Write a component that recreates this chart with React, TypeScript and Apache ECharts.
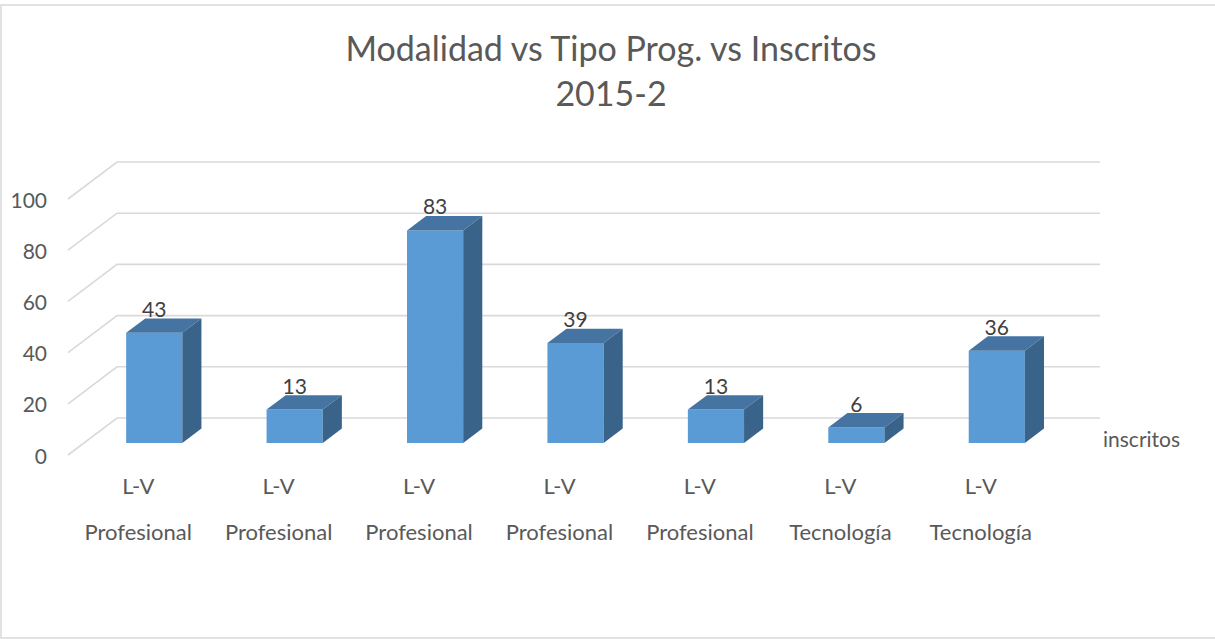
import React, { useEffect, useRef } from "react";
import * as echarts from "echarts";

const modalidad = ["L-V", "L-V", "L-V", "L-V", "L-V", "L-V", "L-V"];
const tipoProg = ["Profesional", "Profesional", "Profesional", "Profesional", "Profesional", "Tecnología", "Tecnología"];
const inscritos = [43, 13, 83, 39, 13, 6, 36];
const yTicks = [0, 20, 40, 60, 80, 100];
const seriesName = "inscritos";
const titleLines = ["Modalidad vs Tipo Prog. vs Inscritos", "2015-2"];

const FONT = "Lato, 'Open Sans', sans-serif";
const DX = 49;
const DY = -37;
const F_FRONT = 0.327;
const F_DEPTH = 0.39;
const BAR_FRAC = 0.4;

export default function App() {
  const ref = useRef<HTMLDivElement>(null);
  useEffect(() => {
    if (!ref.current) return;
    const chart = echarts.init(ref.current, undefined, { renderer: "svg" });
    const categories = modalidad.map((m, i) => `${m}\n${tipoProg[i]}`);
    chart.setOption({
      animation: false,
      backgroundColor: "#ffffff",
      title: {
        text: titleLines.join("\n"),
        left: 611,
        top: 25,
        padding: 0,
        textAlign: "center",
        textStyle: { fontFamily: FONT, fontSize: 34, fontWeight: "normal", color: "#595959", lineHeight: 45 },
      },
      graphic: [
        {
          type: "rect",
          shape: { x: 1, y: 5, width: 1216, height: 633 },
          style: { fill: "none", stroke: "#d9d9d9", lineWidth: 1.5 },
          silent: true,
          z: -10,
        },
      ],
      grid: { left: 68, top: 199, width: 983, height: 256 },
      xAxis: {
        type: "category",
        data: categories,
        axisLine: { show: false },
        axisTick: { show: false },
        splitLine: { show: false },
        axisLabel: {
          interval: 0,
          margin: 7,
          fontFamily: FONT,
          fontSize: 22,
          color: "#595959",
          lineHeight: 46,
        },
      },
      yAxis: {
        type: "value",
        min: 0,
        max: 100,
        interval: 20,
        axisLine: { show: false },
        axisTick: { show: false },
        splitLine: { show: false },
        axisLabel: { fontFamily: FONT, fontSize: 21, color: "#595959", margin: 21 },
      },
      series: [
        {
          type: "custom",
          name: "grid",
          silent: true,
          z: 1,
          data: yTicks.map((v) => [0, v]),
          renderItem: (params: any, api: any) => {
            const cs = params.coordSys;
            const v = api.value(1);
            const y = api.coord([0, v])[1];
            const x0 = cs.x;
            const x1 = cs.x + cs.width;
            const children: any[] = [
              {
                type: "polyline",
                shape: { points: [[x0, y], [x0 + DX, y + DY], [x1 + DX, y + DY]] },
                style: { stroke: "#d9d9d9", lineWidth: 1.6, fill: "none" },
              },
            ];
            if (params.dataIndex === 0) {
              children.push({
                type: "text",
                style: {
                  text: seriesName,
                  x: x1 + DX + 3,
                  y: y + DY + 20,
                  fill: "#595959",
                  fontFamily: FONT,
                  fontSize: 21,
                  verticalAlign: "middle",
                  align: "left",
                },
              });
            }
            return { type: "group", children };
          },
        },
        {
          type: "custom",
          name: seriesName,
          z: 2,
          data: inscritos.map((v, i) => [i, v]),
          renderItem: (params: any, api: any) => {
            const i = api.value(0);
            const v = api.value(1);
            const b = api.coord([i, 0]);
            const t = api.coord([i, v]);
            const bw = api.size([1, 0])[0] * BAR_FRAC;
            const fx = DX * F_FRONT;
            const fy = DY * F_FRONT;
            const dx = DX * F_DEPTH;
            const dy = DY * F_DEPTH;
            const xl = b[0] - bw / 2 + fx;
            const xr = b[0] + bw / 2 + fx;
            const yb = b[1] + fy;
            const yt = t[1] + fy;
            return {
              type: "group",
              children: [
                {
                  type: "rect",
                  shape: { x: xl, y: yt, width: xr - xl, height: yb - yt },
                  style: { fill: "#5b9bd5" },
                },
                {
                  type: "polygon",
                  shape: { points: [[xl, yt], [xr, yt], [xr + dx, yt + dy], [xl + dx, yt + dy]] },
                  style: { fill: "#4574a3" },
                },
                {
                  type: "polygon",
                  shape: { points: [[xr, yt], [xr + dx, yt + dy], [xr + dx, yb + dy], [xr, yb]] },
                  style: { fill: "#3a6389" },
                },
                {
                  type: "text",
                  style: {
                    text: String(v),
                    x: (xl + xr) / 2,
                    y: yt + dy - 10,
                    align: "center",
                    verticalAlign: "middle",
                    fill: "#404040",
                    fontFamily: FONT,
                    fontSize: 21,
                  },
                },
              ],
            };
          },
        },
      ],
    });
    return () => chart.dispose();
  }, []);
  return (
    <div
      ref={ref}
      style={{ position: "absolute", left: 0, top: 0, width: 1215, height: 639 }}
    />
  );
}
